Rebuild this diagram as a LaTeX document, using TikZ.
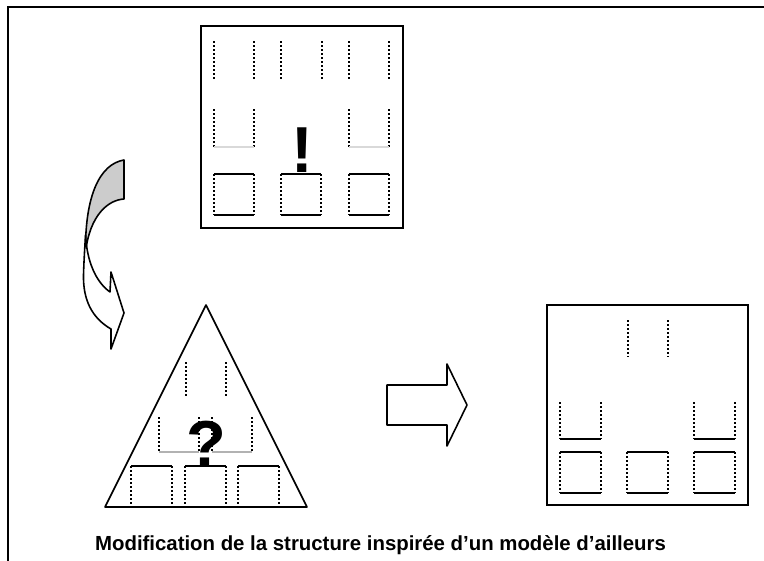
\documentclass[tikz,border=0pt]{standalone}
\usepackage{fontspec}
\setmainfont{Liberation Sans}
\usetikzlibrary{calc}
% a square: solid top and bottom, dotted sides
\newcommand{\carreau}[3][40]{%
  \draw[plein] (#2,#3) -- ++(#1,0) (#2,#3+41) -- ++(#1,0);
  \draw[pointille] (#2,#3) -- ++(0,41) (#2+#1,#3) -- ++(0,41);}
% a pair of dotted uprights
\newcommand{\montants}[4]{%
  \draw[pointille] (#1,#3) -- (#1,#4) (#2,#3) -- (#2,#4);}

\begin{document}
\begin{tikzpicture}[
    x=0.02cm, y=-0.02cm,
    boite/.style={draw, line width=1.1pt},
    pointille/.style={line width=0.75pt, dash pattern=on 0.9pt off 1.4pt},
    plein/.style={line width=0.8pt},
    fond/.style={line width=0.6pt, gray!60},
    fleche/.style={draw, line width=0.9pt, line join=round},
    signe/.style={font=\fontsize{37}{37}\selectfont\bfseries, inner sep=0pt},
    legende/.style={font=\fontsize{11.6}{13}\selectfont\bfseries, inner sep=0pt},
]
\useasboundingbox (0,0) rectangle (764,561);
% frame, cut by the page
\draw[line width=1.1pt] (764,7) -- (8,7) -- (8,561);

% top box: the model from elsewhere
\draw[boite] (201,26) rectangle (403,228);
\montants{214}{254}{41}{79}
\montants{281}{322}{41}{79}
\montants{349}{389}{41}{79}
\montants{214}{254}{109}{147}
\montants{349}{389}{109}{147}
\draw[fond, gray!30] (214,147) -- (254,147) (349,147) -- (389,147);
\carreau{214}{174}
\carreau{281}{174}
\carreau{349}{174}
\node[signe, anchor=base] (exclam) at (302,172) {!};

% curved arrow down to the triangle
\draw[fleche, fill=gray!40] (124,160) .. controls (100,164) and (85,195) .. (85.5,252)
    .. controls (90,215) and (108,200) .. (124,199) -- cycle;
\draw[fleche, fill=white] (85.5,235) .. controls (87,262) and (96,282) .. (110,292)
    -- (111,272) -- (124,313) -- (111,349) -- (111,329)
    .. controls (92,318) and (83,300) .. (83.5,275)
    .. controls (84,258) and (85,245) .. (85.5,235) -- cycle;

% triangle: the old structure
\draw[fleche] (105,507) -- (206,305) -- (307,507) -- cycle;
\montants{186}{226}{362}{398}
\montants{159}{199}{417}{452}
\montants{212}{252}{417}{452}
\draw[fond] (159,452) -- (199,452) (212,452) -- (252,452);
\carreau[41]{131}{466}
\carreau[41]{185}{466}
\carreau[41]{238}{466}
\node[signe, anchor=base] (question) at (206,466) {?};

% block arrow to the result
\draw[fleche] (387,385) -- (447,385) -- (447,364) -- (467,405) -- (447,446)
    -- (447,425) -- (387,425) -- cycle;

% right box: the modified structure
\draw[boite] (547,305) rectangle (748,505);
\montants{628}{668}{320}{357}
\montants{560}{601}{402}{439}
\montants{694}{735}{402}{439}
\draw[plein] (560,439) -- (601,439) (694,439) -- (735,439);
\carreau[41]{560}{452}
\carreau[41]{627}{452}
\carreau[41]{694}{452}

\node[legende] (titre) at (380.5,545)
    {Modification de la structure inspirée d’un modèle d’ailleurs};
\end{tikzpicture}
\end{document}
